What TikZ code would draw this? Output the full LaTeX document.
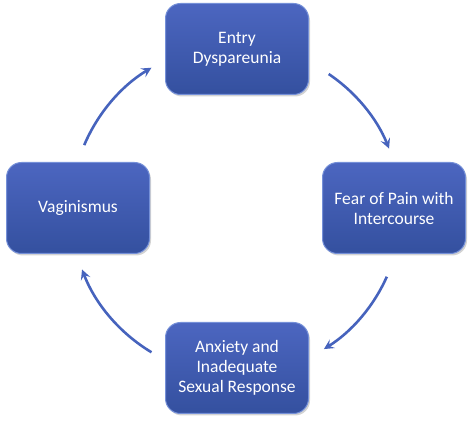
\documentclass[tikz,border=0pt]{standalone}
\usepackage{fontspec}
\setmainfont{Carlito}
\usetikzlibrary{arrows.meta,shadows}
\definecolor{boxtop}{HTML}{4C66C0}
\definecolor{boxbottom}{HTML}{34509F}
\definecolor{boxedge}{HTML}{7590D8}
\definecolor{arrowblue}{HTML}{4663BD}

\begin{document}
\begin{tikzpicture}[x=1pt,y=1pt,
    stage/.style={rounded corners=15pt, minimum width=143pt, minimum height=91pt,
        draw=boxedge, line width=1pt, top color=boxtop, bottom color=boxbottom,
        text=white, align=center, font=\fontsize{17.5}{20}\selectfont,
        drop shadow={shadow xshift=1.5pt, shadow yshift=-2pt, opacity=0.35}},
    cyc/.style={draw=arrowblue, line width=2.6pt,
        -{Stealth[length=10pt,width=10pt,inset=4pt]}}]
    \useasboundingbox (0,0) rectangle (474,423);
    \coordinate (hub) at (237,213);
    \node[stage] (entry) at (237,374) {Entry\\Dyspareunia};
    \node[stage] (fear) at (394,215) {Fear of Pain with\\Intercourse};
    \node[stage] (anxiety) at (237,55) {Anxiety and\\Inadequate\\Sexual Response};
    \node[stage] (vagin) at (78,215) {Vaginismus};
    % arrows around the cycle
    \draw[cyc] ([shift={(56:164)}]hub) arc[start angle=56, end angle=22, radius=164];
    \draw[cyc] ([shift={(-24:164)}]hub) arc[start angle=-24, end angle=-58, radius=164];
    \draw[cyc] ([shift={(-121:166)}]hub) arc[start angle=-121, end angle=-159, radius=166];
    \draw[cyc] ([shift={(157:166)}]hub) arc[start angle=157, end angle=121, radius=166];
\end{tikzpicture}
\end{document}
